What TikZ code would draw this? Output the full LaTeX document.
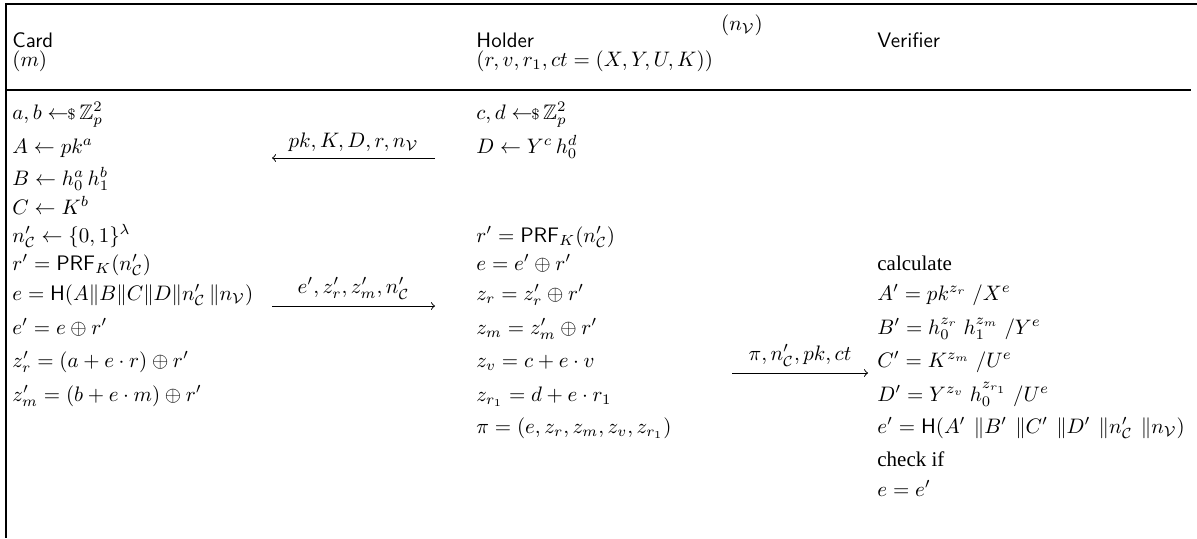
\documentclass[tikz,border=0pt]{standalone}
\usepackage{amsmath,amssymb}
\usepackage{fontspec}
\newfontfamily\timesfont{Liberation Serif}
\newcommand{\smpl}{\leftarrow\!\!{\scriptstyle\$}\,}
\newcommand{\gp}{\mkern5mu}
\newcommand{\gq}{\mkern7mu}
\begin{document}
\begin{tikzpicture}[x=0.477pt,y=-0.477pt,
  txt/.style={anchor=base west,inner sep=0pt},
  hd/.style={anchor=base west,inner sep=0pt,font=\sffamily},
  frame/.style={line width=0.7pt},
  msg/.style={->,line width=0.45pt},
  lbl/.style={above,inner sep=3pt}]
\useasboundingbox (0,0) rectangle (1197,538);
% frame
\coordinate (tl) at (6,4); \coordinate (tr) at (1197,4);
\coordinate (bl) at (6,538);
\coordinate (rl) at (6,90); \coordinate (rr) at (1191,90);
\draw[frame] (tr) -- (tl) -- (bl);
\draw[frame] (rl) -- (rr);
% headers
\node[anchor=base,inner sep=0pt] (nv) at (742,30) {$(n_{\mathcal{V}})$};
\node[hd] (card) at (12,47) {Card};
\node[txt] (cardm) at (12,66) {$(m)$};
\node[hd] (holder) at (476,47) {Holder};
\node[txt] (holderk) at (476,66) {$(r,v,r_1,ct=(X,Y,U,K))$};
\node[hd] (verifier) at (877,47) {Verifier};
% card column
\node[txt] (c1) at (12,119) {$a,b\smpl\mathbb{Z}_p^2$};
\node[txt] (c2) at (12,153) {$A\leftarrow pk^a$};
\node[txt] (c3) at (12,185) {$B\leftarrow h_0^a\,h_1^b$};
\node[txt] (c4) at (12,214) {$C\leftarrow K^b$};
\node[txt] (c5) at (12,242) {$n'_{\mathcal{C}}\leftarrow\{0,1\}^\lambda$};
\node[txt] (c6) at (12,270) {$r'=\mathsf{PRF}_K(n'_{\mathcal{C}})$};
\node[txt] (c7) at (12,300) {$e=\mathsf{H}(A\|B\|C\|D\|n'_{\mathcal{C}}\,\|n_{\mathcal{V}})$};
\node[txt] (c8) at (12,334) {$e'=e\oplus r'$};
\node[txt] (c9) at (12,367) {$z'_r=(a+e\cdot r)\oplus r'$};
\node[txt] (c10) at (12,401) {$z'_m=(b+e\cdot m)\oplus r'$};
% holder column
\node[txt] (h1) at (476,119) {$c,d\smpl\mathbb{Z}_p^2$};
\node[txt] (h2) at (476,153) {$D\leftarrow Y^c\,h_0^d$};
\node[txt] (h5) at (476,242) {$r'=\mathsf{PRF}_K(n'_{\mathcal{C}})$};
\node[txt] (h6) at (476,270) {$e=e'\oplus r'$};
\node[txt] (h7) at (476,300) {$z_r=z'_r\oplus r'$};
\node[txt] (h8) at (476,334) {$z_m=z'_m\oplus r'$};
\node[txt] (h9) at (476,367) {$z_v=c+e\cdot v$};
\node[txt] (h10) at (476,401) {$z_{r_1}=d+e\cdot r_1$};
\node[txt] (h11) at (476,433) {$\pi=(e,z_r,z_m,z_v,z_{r_1})$};
% verifier column
\node[txt,font=\timesfont] (v6) at (877,270) {calculate};
\node[txt] (v7) at (877,300) {$A'=pk^{z_r}\gp/X^e$};
\node[txt] (v8) at (877,334) {$B'=h_0^{z_r}\gp h_1^{z_m}\gp/Y^e$};
\node[txt] (v9) at (877,367) {$C'=K^{z_m}\gp/U^e$};
\node[txt] (v10) at (877,401) {$D'=Y^{z_v}\gp h_0^{z_{r_1}}\gp/U^e$};
\node[txt] (v11) at (877,433) {$e'=\mathsf{H}(A'\gq\|B'\gq\|C'\gq\|D'\gq\|n'_{\mathcal{C}}\gq\|n_{\mathcal{V}})$};
\node[txt,font=\timesfont] (v12) at (877,466) {check if};
\node[txt] (v13) at (877,496) {$e=e'$};
% messages
\coordinate (m1s) at (435,158); \coordinate (m1e) at (272,158);
\draw[msg] (m1s) -- node[lbl] (l1) {$pk,K,D,r,n_{\mathcal{V}}$} (m1e);
\coordinate (m2s) at (272,306); \coordinate (m2e) at (435,306);
\draw[msg] (m2s) -- node[lbl] (l2) {$e',z'_r,z'_m,n'_{\mathcal{C}}$} (m2e);
\coordinate (m3s) at (732,373); \coordinate (m3e) at (868,373);
\draw[msg] (m3s) -- node[lbl] (l3) {$\pi,n'_{\mathcal{C}},pk,ct$} (m3e);
\end{tikzpicture}
\end{document}
